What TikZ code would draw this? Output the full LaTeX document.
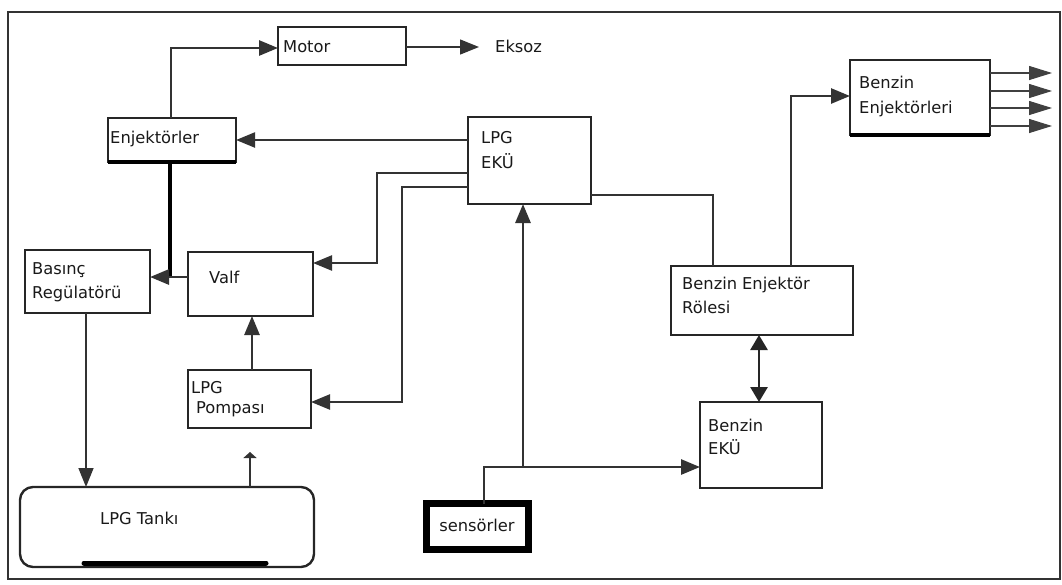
\documentclass[tikz,border=0pt]{standalone}
\usepackage{fontspec}
\setmainfont{DejaVu Sans}
\usetikzlibrary{arrows.meta}
\begin{document}
\begin{tikzpicture}[x=1pt,y=-1pt,
  box/.style={draw=black!85, line width=2.4pt, rectangle, inner sep=0pt, outer sep=0pt, anchor=north west},
  txt/.style={inner sep=0pt, anchor=base west, font=\fontsize{16.3}{19}\selectfont, text=black!90},
  conn/.style={draw=black!80, line width=1.9pt},
  arr/.style={conn, -{Triangle[length=19pt,width=15pt]}},
  thin arr/.style={draw=black!75, line width=1.1pt, -{Triangle[length=23pt,width=14pt]}},
  dbl/.style={draw=black!85, line width=2.8pt, {Triangle[length=15pt,width=17pt]}-{Triangle[length=15pt,width=17pt]}},
]
\useasboundingbox (0,0) rectangle (1062,584);
\draw[black!80, line width=2.2pt] (8,12) rectangle (1060,579);

% boxes
\node[box, minimum width=128pt, minimum height=38pt] (motor) at (278,27) {};
\node[box, minimum width=128pt, minimum height=44pt] (enj) at (108,118) {};
\node[box, minimum width=123pt, minimum height=87pt] (ecu) at (468,117) {};
\node[box, minimum width=140pt, minimum height=75pt] (benj) at (850,60) {};
\node[box, minimum width=125pt, minimum height=63pt] (bas) at (25,250) {};
\node[box, minimum width=125pt, minimum height=64pt] (valf) at (188,252) {};
\node[box, minimum width=123pt, minimum height=58pt] (pomp) at (188,370) {};
\node[box, rounded corners=13pt, minimum width=294pt, minimum height=80pt] (tank) at (20,487) {};
\node[box, minimum width=182pt, minimum height=69pt] (role) at (671,266) {};
\node[box, minimum width=122pt, minimum height=86pt] (becu) at (700,402) {};
\node[box, line width=7pt, draw=black, minimum width=102pt, minimum height=46pt] (sens) at (426.5,503.5) {};

% thick edges
\draw[black, line width=3.4pt] (enj.south west) -- (enj.south east);
\draw[black, line width=3.4pt] (benj.south west) -- (benj.south east);
\draw[black, line width=5pt, line cap=round] (84,563) -- (266,563);

% texts
\node[txt] (tmotor) at (283,52) {Motor};
\node[txt] (teksoz) at (495,52) {Eksoz};
\node[txt] (tenj) at (110,143) {Enjektörler};
\node[txt] (tecu1) at (481,143) {LPG};
\node[txt] (tecu2) at (481,168) {EKÜ};
\node[txt] (tbenj1) at (859,88) {Benzin};
\node[txt] (tbenj2) at (859,113) {Enjektörleri};
\node[txt] (tbas1) at (32,274) {Basınç};
\node[txt] (tbas2) at (32,298) {Regülatörü};
\node[txt] (tvalf) at (209,283) {Valf};
\node[txt] (tpomp1) at (191,393) {LPG};
\node[txt] (tpomp2) at (196,413) {Pompası};
\node[txt] (ttank) at (100,524) {LPG Tankı};
\node[txt] (trole1) at (682,289) {Benzin\hspace{5pt}Enjektör};
\node[txt] (trole2) at (682,313) {Rölesi};
\node[txt] (tbecu1) at (708,431) {Benzin};
\node[txt] (tbecu2) at (708,454) {EKÜ};
\node[txt, anchor=center] (tsens) at (477,525) {sensörler};

% connectors
\coordinate (c1) at (171,48);
\draw[arr, line width=2.8pt] (enj.north -| c1) -- (c1) -- (motor.west |- c1);
\coordinate (c2) at (479,47);
\draw[arr, line width=1.4pt] (motor.east |- c2) -- (c2);
\coordinate (c3) at (0,140);
\draw[arr, line width=2.2pt] (ecu.west |- c3) -- (enj.east |- c3);
\coordinate (j1) at (170,277);
\draw[black, line width=3.4pt] (enj.south -| j1) -- (j1);
\draw[arr, line width=2.8pt] (valf.west |- j1) -- (bas.east |- j1);
\coordinate (c5a) at (377,173);
\coordinate (c5b) at (377,263);
\draw[arr, line width=2.4pt] (ecu.west |- c5a) -- (c5a) -- (c5b) -- (valf.east |- c5b);
\coordinate (c6a) at (402,187);
\coordinate (c6b) at (402,402);
\draw[arr, line width=2.4pt] (ecu.west |- c6a) -- (c6a) -- (c6b) -- (pomp.east |- c6b);
\coordinate (c7) at (252,0);
\draw[arr, line width=2.6pt] (pomp.north -| c7) -- (valf.south -| c7);
\coordinate (c8) at (86,0);
\draw[arr, line width=1.5pt] (bas.south -| c8) -- (tank.north -| c8);
\coordinate (c9) at (250,452);
\draw[conn, line width=2.4pt, -{Triangle[length=6pt,width=13pt]}] (tank.north -| c9) -- (c9);
\coordinate (s1) at (484,467);
\draw[arr, line width=2.8pt] (sens.north -| s1) -- (s1) -- (becu.west |- s1);
\coordinate (s2) at (523,467);
\draw[arr, line width=2.8pt] (s2) -- (ecu.south -| s2);
\coordinate (r1) at (713,195);
\draw[conn, line width=2.2pt] (ecu.east |- r1) -- (r1) -- (role.north -| r1);
\coordinate (r2) at (791,96);
\draw[arr, line width=2.6pt] (role.north -| r2) -- (r2) -- (benj.west |- r2);
\coordinate (d1) at (759,0);
\draw[dbl] (role.south -| d1) -- (becu.north -| d1);
\coordinate (o1) at (1052,73);
\coordinate (o2) at (1052,91);
\coordinate (o3) at (1052,108);
\coordinate (o4) at (1052,126);
\draw[thin arr] (benj.east |- o1) -- (o1);
\draw[thin arr] (benj.east |- o2) -- (o2);
\draw[thin arr] (benj.east |- o3) -- (o3);
\draw[thin arr] (benj.east |- o4) -- (o4);
\end{tikzpicture}
\end{document}
